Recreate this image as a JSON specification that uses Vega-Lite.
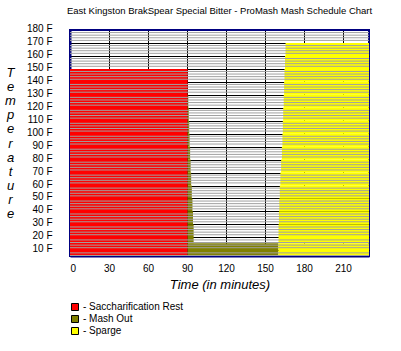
{
  "$schema": "https://vega.github.io/schema/vega-lite/v6.json",
  "width": 299,
  "height": 226,
  "autosize": "none",
  "padding": {"left": 70, "top": 30, "right": 32, "bottom": 95},
  "background": "white",
  "title": {
    "text": "East Kingston BrakSpear Special Bitter - ProMash Mash Schedule Chart",
    "font": "Liberation Sans",
    "fontSize": 9.5,
    "fontWeight": "normal",
    "color": "black",
    "anchor": "middle",
    "offset": 8
  },
  "datasets": {
    "phases": [
      {"phase": "Saccharification Rest", "start": 0, "end": 90.5, "low": 5.6, "high": 150},
      {"phase": "Mash Out", "start": 90.5, "end": 91.0, "low": 120, "high": 130},
      {"phase": "Mash Out", "start": 90.5, "end": 91.4, "low": 110, "high": 120},
      {"phase": "Mash Out", "start": 90.5, "end": 91.7, "low": 100, "high": 110},
      {"phase": "Mash Out", "start": 90.5, "end": 92.0, "low": 90, "high": 100},
      {"phase": "Mash Out", "start": 90.5, "end": 92.4, "low": 80, "high": 90},
      {"phase": "Mash Out", "start": 90.5, "end": 92.8, "low": 70, "high": 80},
      {"phase": "Mash Out", "start": 90.5, "end": 93.2, "low": 60, "high": 70},
      {"phase": "Mash Out", "start": 90.5, "end": 93.7, "low": 50, "high": 60},
      {"phase": "Mash Out", "start": 90.5, "end": 94.2, "low": 40, "high": 50},
      {"phase": "Mash Out", "start": 90.5, "end": 94.6, "low": 30, "high": 40},
      {"phase": "Mash Out", "start": 90.5, "end": 95.1, "low": 15.4, "high": 30},
      {"phase": "Mash Out", "start": 90.5, "end": 160.3, "low": 5.6, "high": 15.4},
      {"phase": "Sparge", "start": 165.8, "end": 230, "low": 160, "high": 170},
      {"phase": "Sparge", "start": 165.4, "end": 230, "low": 150, "high": 160},
      {"phase": "Sparge", "start": 165.0, "end": 230, "low": 140, "high": 150},
      {"phase": "Sparge", "start": 164.7, "end": 230, "low": 130, "high": 140},
      {"phase": "Sparge", "start": 164.4, "end": 230, "low": 120, "high": 130},
      {"phase": "Sparge", "start": 164.0, "end": 230, "low": 110, "high": 120},
      {"phase": "Sparge", "start": 163.7, "end": 230, "low": 100, "high": 110},
      {"phase": "Sparge", "start": 163.4, "end": 230, "low": 90, "high": 100},
      {"phase": "Sparge", "start": 163.0, "end": 230, "low": 80, "high": 90},
      {"phase": "Sparge", "start": 162.4, "end": 230, "low": 70, "high": 80},
      {"phase": "Sparge", "start": 161.8, "end": 230, "low": 60, "high": 70},
      {"phase": "Sparge", "start": 161.4, "end": 230, "low": 50, "high": 60},
      {"phase": "Sparge", "start": 161.0, "end": 230, "low": 40, "high": 50},
      {"phase": "Sparge", "start": 160.7, "end": 230, "low": 30, "high": 40},
      {"phase": "Sparge", "start": 160.4, "end": 230, "low": 15.4, "high": 30},
      {"phase": "Sparge", "start": 160.3, "end": 230, "low": 5.6, "high": 15.4}
    ],
    "stripes": [
      {"temp": 6}, {"temp": 8}, {"temp": 12}, {"temp": 14}, {"temp": 16}, {"temp": 18},
      {"temp": 22}, {"temp": 24}, {"temp": 26}, {"temp": 28},
      {"temp": 32}, {"temp": 34}, {"temp": 36}, {"temp": 38},
      {"temp": 42}, {"temp": 44}, {"temp": 46}, {"temp": 48},
      {"temp": 52}, {"temp": 54}, {"temp": 56}, {"temp": 58},
      {"temp": 62}, {"temp": 64}, {"temp": 66}, {"temp": 68},
      {"temp": 72}, {"temp": 74}, {"temp": 76}, {"temp": 78},
      {"temp": 82}, {"temp": 84}, {"temp": 86}, {"temp": 88},
      {"temp": 92}, {"temp": 94}, {"temp": 96}, {"temp": 98},
      {"temp": 102}, {"temp": 104}, {"temp": 106}, {"temp": 108},
      {"temp": 112}, {"temp": 114}, {"temp": 116}, {"temp": 118},
      {"temp": 122}, {"temp": 124}, {"temp": 126}, {"temp": 128},
      {"temp": 132}, {"temp": 134}, {"temp": 136}, {"temp": 138},
      {"temp": 142}, {"temp": 144}, {"temp": 146}, {"temp": 148},
      {"temp": 152}, {"temp": 154}, {"temp": 156}, {"temp": 158},
      {"temp": 162}, {"temp": 164}, {"temp": 166}, {"temp": 168},
      {"temp": 172}, {"temp": 174}, {"temp": 176}, {"temp": 178}
    ]
  },
  "layer": [
    {
      "data": {"name": "phases"},
      "mark": {"type": "rect"},
      "encoding": {
        "x": {
          "field": "start",
          "type": "quantitative",
          "scale": {"domain": [0, 230], "nice": false, "zero": false},
          "axis": {
            "values": [0, 30, 60, 90, 120, 150, 180, 210],
            "gridColor": {"condition": {"test": "datum.value === 0", "value": "#000080"}, "value": "black"}
          },
          "title": "Time (in minutes)"
        },
        "x2": {"field": "end"},
        "y": {
          "field": "low",
          "type": "quantitative",
          "scale": {"domain": [5.6, 180], "nice": false, "zero": false},
          "axis": {
            "values": [10, 20, 30, 40, 50, 60, 70, 80, 90, 100, 110, 120, 130, 140, 150, 160, 170, 180],
            "labelExpr": "datum.value + ' F'",
            "gridColor": {"condition": {"test": "datum.value === 180", "value": "#000080"}, "value": "black"}
          },
          "title": ["T", "e", "m", "p", "e", "r", "a", "t", "u", "r", "e"]
        },
        "y2": {"field": "high"},
        "color": {
          "field": "phase",
          "type": "nominal",
          "scale": {
            "domain": ["Saccharification Rest", "Mash Out", "Sparge"],
            "range": ["#ff0000", "#808000", "#ffff00"]
          },
          "legend": {
            "orient": "none",
            "legendX": 0,
            "legendY": 272,
            "title": null,
            "padding": 0,
            "symbolType": "square",
            "symbolSize": 49,
            "symbolStrokeColor": "black",
            "symbolStrokeWidth": 1,
            "symbolOpacity": 1,
            "labelExpr": "'- ' + datum.label",
            "labelFont": "Liberation Sans",
            "labelFontSize": 10,
            "labelColor": "black",
            "labelOffset": 3,
            "rowPadding": 0
          }
        }
      }
    },
    {
      "data": {"name": "stripes"},
      "mark": {"type": "rule", "color": "#a0a0a0", "strokeWidth": 1},
      "encoding": {
        "y": {
          "field": "temp",
          "type": "quantitative",
          "axis": {
            "values": [10, 20, 30, 40, 50, 60, 70, 80, 90, 100, 110, 120, 130, 140, 150, 160, 170, 180],
            "labelExpr": "datum.value + ' F'",
            "gridColor": {"condition": {"test": "datum.value === 180", "value": "#000080"}, "value": "black"}
          },
          "title": ["T", "e", "m", "p", "e", "r", "a", "t", "u", "r", "e"]
        }
      }
    }
  ],
  "config": {
    "view": {"stroke": "#000080", "strokeWidth": 2, "fill": "white"},
    "axis": {
      "labelOverlap": false,
      "grid": true,
      "gridWidth": 1,
      "gridOpacity": 1,
      "ticks": false,
      "domain": true,
      "domainColor": "#000080",
      "domainWidth": 2,
      "labelFont": "Liberation Sans",
      "labelFontSize": 10,
      "labelColor": "black",
      "titleFont": "Liberation Sans",
      "titleFontSize": 13,
      "titleFontStyle": "italic",
      "titleFontWeight": "normal",
      "titleColor": "black",
      "zindex": 1
    },
    "axisX": {
      "labelDx": -4.5,
      "labelPadding": 7,
      "titleY": 28,
      "titleBaseline": "middle"
    },
    "axisY": {
      "labelPadding": 18,
      "labelOffset": -1.5,
      "labelBaseline": "middle",
      "titleAngle": 0,
      "titleAlign": "center",
      "titleBaseline": "middle",
      "titleLineHeight": 14.2,
      "titleX": -60,
      "titleY": 42
    }
  }
}
